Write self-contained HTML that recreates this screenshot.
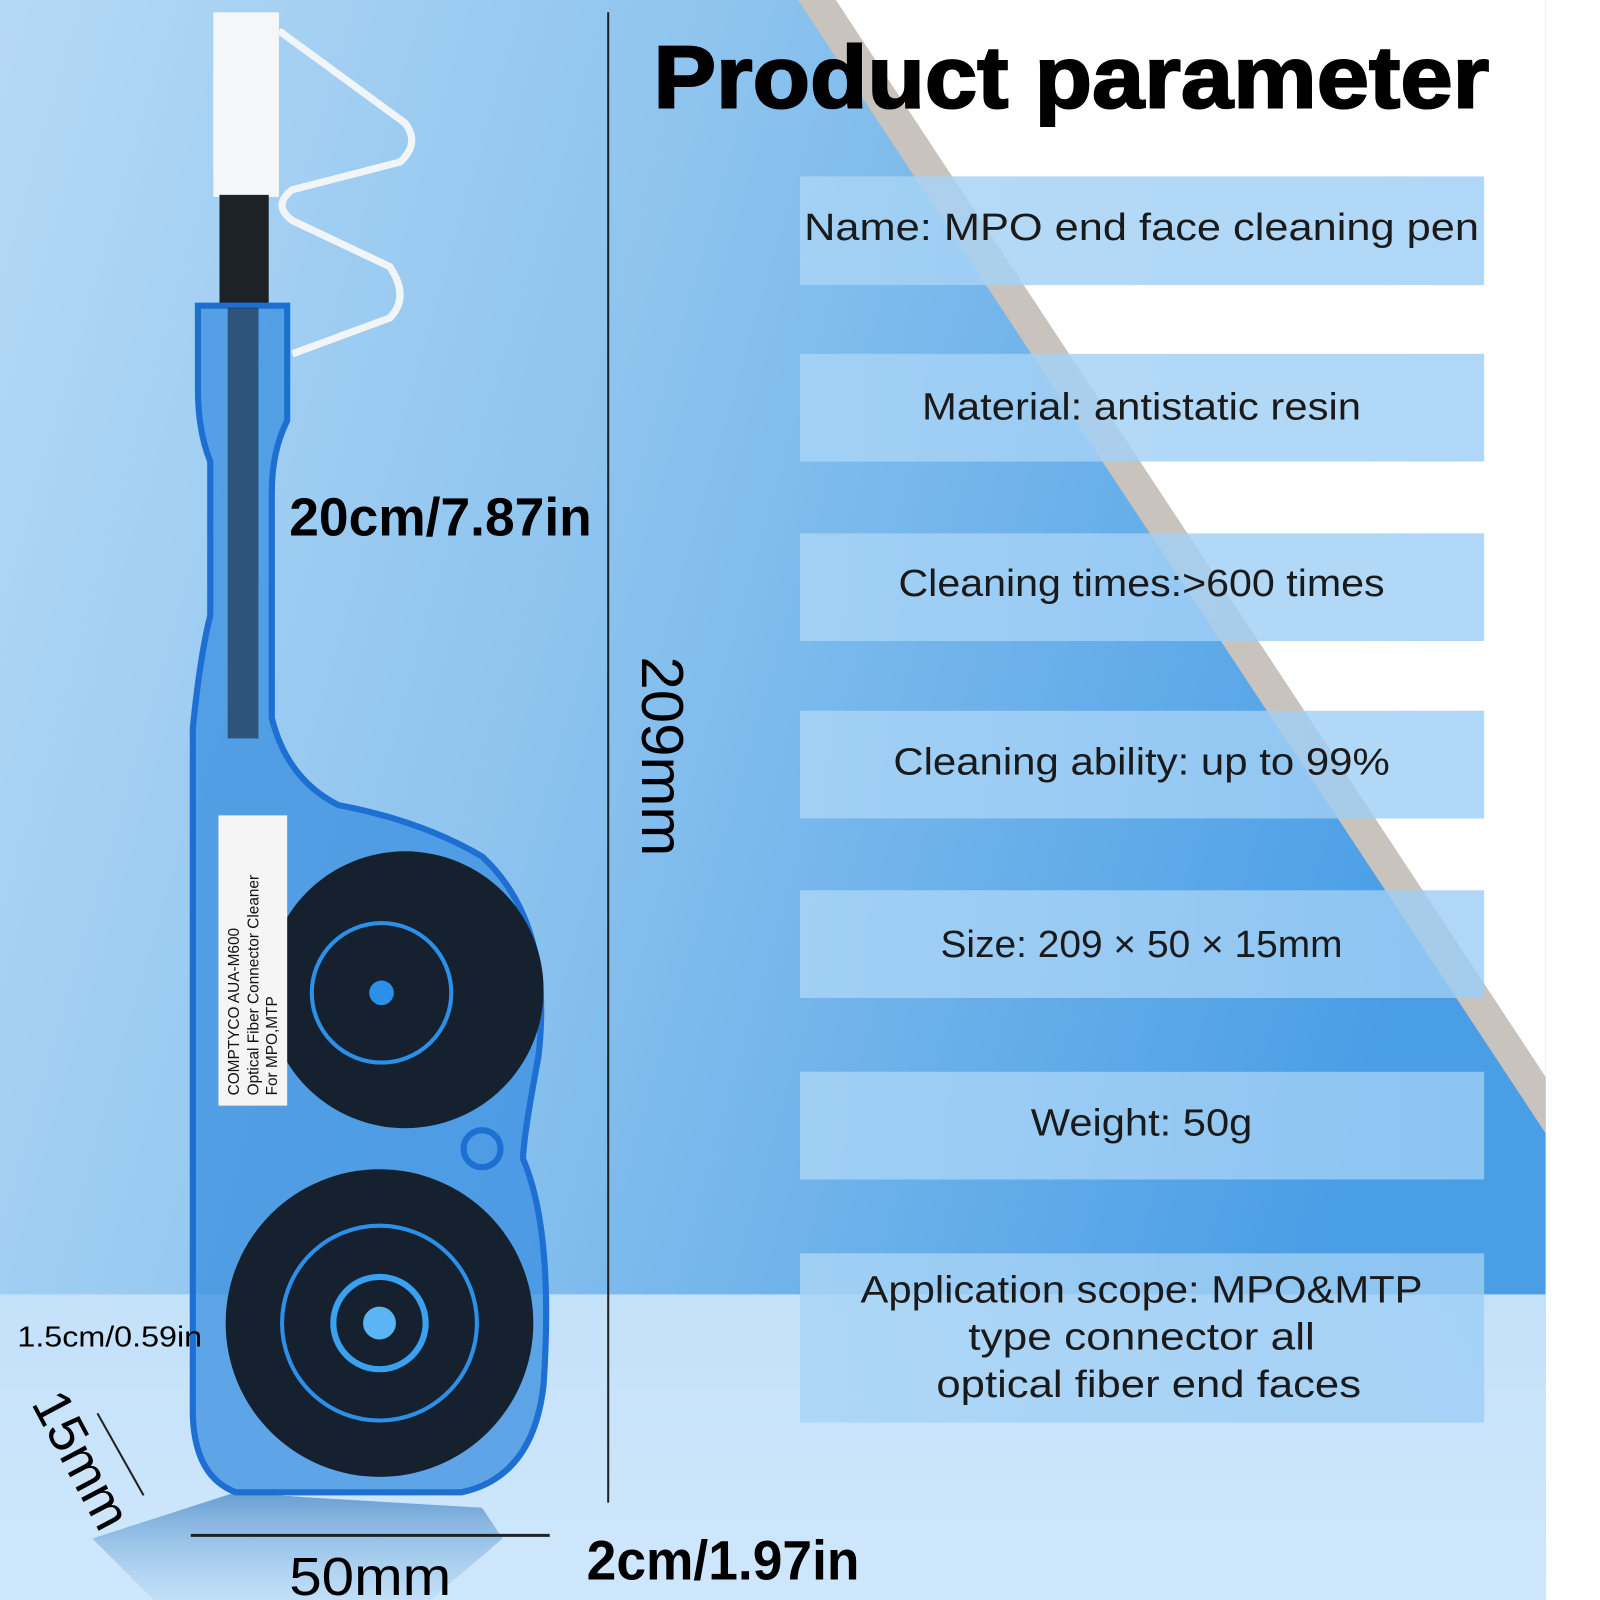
<!DOCTYPE html>
<html><head><meta charset="utf-8"><style>
html,body{margin:0;padding:0;background:#fff;}
svg{display:block;}
</style></head><body>
<svg width="1600" height="1600" viewBox="0 0 1560 1560" xmlns="http://www.w3.org/2000/svg" font-family="Liberation Sans, sans-serif">
<defs>
<linearGradient id="bg" x1="0" y1="0" x2="1" y2="0.3">
<stop offset="0" stop-color="#b5d9f5"/><stop offset="0.45" stop-color="#8cc3ee"/><stop offset="1" stop-color="#4a9ee6"/>
</linearGradient>
<linearGradient id="floor" x1="0" y1="0" x2="0" y2="1">
<stop offset="0" stop-color="#c4e1fa"/><stop offset="1" stop-color="#cfe7fb"/>
</linearGradient>
<linearGradient id="box" x1="0" y1="0" x2="1" y2="0">
<stop offset="0" stop-color="#a9d4f6" stop-opacity="0.85"/><stop offset="1" stop-color="#9ccdf5" stop-opacity="0.8"/>
</linearGradient>
<linearGradient id="shadow" x1="0" y1="0" x2="0" y2="1">
<stop offset="0" stop-color="#3c7fc0" stop-opacity="0.7"/><stop offset="1" stop-color="#8abfe8" stop-opacity="0.2"/>
</linearGradient>
</defs>
<rect width="1560" height="1560" fill="#fff"/>
<rect x="0" y="0" width="1507" height="1563" fill="url(#bg)"/>
<polygon points="778,0 1507,0 1507,1105" fill="#c9c3bd"/>
<polygon points="815,0 1507,0 1507,1050" fill="#ffffff"/>
<rect x="0" y="1262" width="1507" height="301" fill="url(#floor)"/>
<polygon points="300,1460 470,1470 490,1500 420,1560 150,1560 90,1500 230,1455" fill="url(#shadow)"/>

<rect x="208" y="12" width="64" height="180" fill="#f4f6f8"/>
<path d="M272 30 L395 120 Q410 140 390 158 L285 185 Q265 200 285 215 L380 260 Q400 290 380 310 L285 345" fill="none" stroke="#f2f5f8" stroke-width="7"/>
<rect x="214" y="190" width="48" height="110" fill="#1d2227"/>
<path d="M193 298 L280 298 L280 410 Q265 440 265 480 L265 700 Q280 760 330 785 Q410 800 470 835 Q540 900 525 1030 Q510 1110 510 1130 Q540 1200 530 1350 Q520 1440 450 1455 L230 1455 Q190 1440 188 1380 L188 710 Q195 640 205 600 L205 450 Q193 420 193 380 Z" fill="#3a8fe0" fill-opacity="0.75" stroke="#1d6fd1" stroke-width="6"/>
<rect x="222" y="300" width="30" height="420" fill="#1f3550" opacity="0.7"/>
<circle cx="395" cy="965" r="135" fill="#15212e"/>
<circle cx="372" cy="968" r="68" fill="none" stroke="#2c8fe8" stroke-width="4"/>
<circle cx="372" cy="968" r="12" fill="#2c8fe8"/>
<circle cx="370" cy="1290" r="150" fill="#15212e"/>
<circle cx="370" cy="1290" r="95" fill="none" stroke="#2c8fe8" stroke-width="4"/>
<circle cx="370" cy="1290" r="45" fill="none" stroke="#3aa0f0" stroke-width="6"/>
<circle cx="370" cy="1290" r="16" fill="#5ab5f5"/>
<circle cx="470" cy="1120" r="18" fill="none" stroke="#1d6fd1" stroke-width="6"/>
<rect x="213" y="795" width="67" height="283" fill="#f5f5f5"/>
<text transform="translate(233,1068) rotate(-90)" font-size="15" fill="#111">COMPTYCO   AUA-M600</text>
<text transform="translate(252,1068) rotate(-90)" font-size="15" fill="#111">Optical Fiber Connector Cleaner</text>
<text transform="translate(270,1068) rotate(-90)" font-size="15" fill="#111">      For MPO,MTP</text>

<line x1="593" y1="12" x2="593" y2="1465" stroke="#222" stroke-width="2"/>
<line x1="186" y1="1497" x2="536" y2="1497" stroke="#222" stroke-width="3"/>
<line x1="95" y1="1378" x2="140" y2="1458" stroke="#222" stroke-width="2"/>

<text x="282" y="522" font-size="52" font-weight="bold" fill="#000" textLength="295" lengthAdjust="spacingAndGlyphs">20cm/7.87in</text>
<text transform="translate(626,640) rotate(90)" font-size="58" fill="#000" textLength="195" lengthAdjust="spacingAndGlyphs">209mm</text>
<text x="17" y="1313" font-size="28" fill="#000" textLength="180" lengthAdjust="spacingAndGlyphs">1.5cm/0.59in</text>
<text transform="translate(30,1368) rotate(62)" font-size="52" fill="#000">15mm</text>
<text x="282" y="1555" font-size="52" fill="#000" textLength="158" lengthAdjust="spacingAndGlyphs">50mm</text>
<text x="572" y="1540" font-size="54" font-weight="bold" fill="#000" textLength="266" lengthAdjust="spacingAndGlyphs">2cm/1.97in</text>

<text x="637" y="105" font-size="86" font-weight="bold" fill="#000" textLength="815" lengthAdjust="spacingAndGlyphs" stroke="#000" stroke-width="2">Product parameter</text>

<g font-size="37" fill="#1a1a1a" text-anchor="middle">
<rect x="780" y="172" width="667" height="106" fill="url(#box)"/>
<text x="1113" y="234" textLength="658" lengthAdjust="spacingAndGlyphs">Name: MPO end face cleaning pen</text>
<rect x="780" y="345" width="667" height="105" fill="url(#box)"/>
<text x="1113" y="409" textLength="428" lengthAdjust="spacingAndGlyphs">Material: antistatic resin</text>
<rect x="780" y="520" width="667" height="105" fill="url(#box)"/>
<text x="1113" y="581" textLength="474" lengthAdjust="spacingAndGlyphs">Cleaning times:&gt;600 times</text>
<rect x="780" y="693" width="667" height="105" fill="url(#box)"/>
<text x="1113" y="755" textLength="484" lengthAdjust="spacingAndGlyphs">Cleaning ability: up to 99%</text>
<rect x="780" y="868" width="667" height="105" fill="url(#box)"/>
<text x="1113" y="933" textLength="392" lengthAdjust="spacingAndGlyphs">Size: 209 × 50 × 15mm</text>
<rect x="780" y="1045" width="667" height="105" fill="url(#box)"/>
<text x="1113" y="1107" textLength="216" lengthAdjust="spacingAndGlyphs">Weight: 50g</text>
<rect x="780" y="1222" width="667" height="165" fill="url(#box)"/>
<text x="1113" y="1270" textLength="548" lengthAdjust="spacingAndGlyphs">Application scope: MPO&amp;MTP</text>
<text x="1113" y="1316" textLength="338" lengthAdjust="spacingAndGlyphs">type connector all</text>
<text x="1120" y="1362" textLength="414" lengthAdjust="spacingAndGlyphs">optical fiber end faces</text>
</g>
</svg>
</body></html>
